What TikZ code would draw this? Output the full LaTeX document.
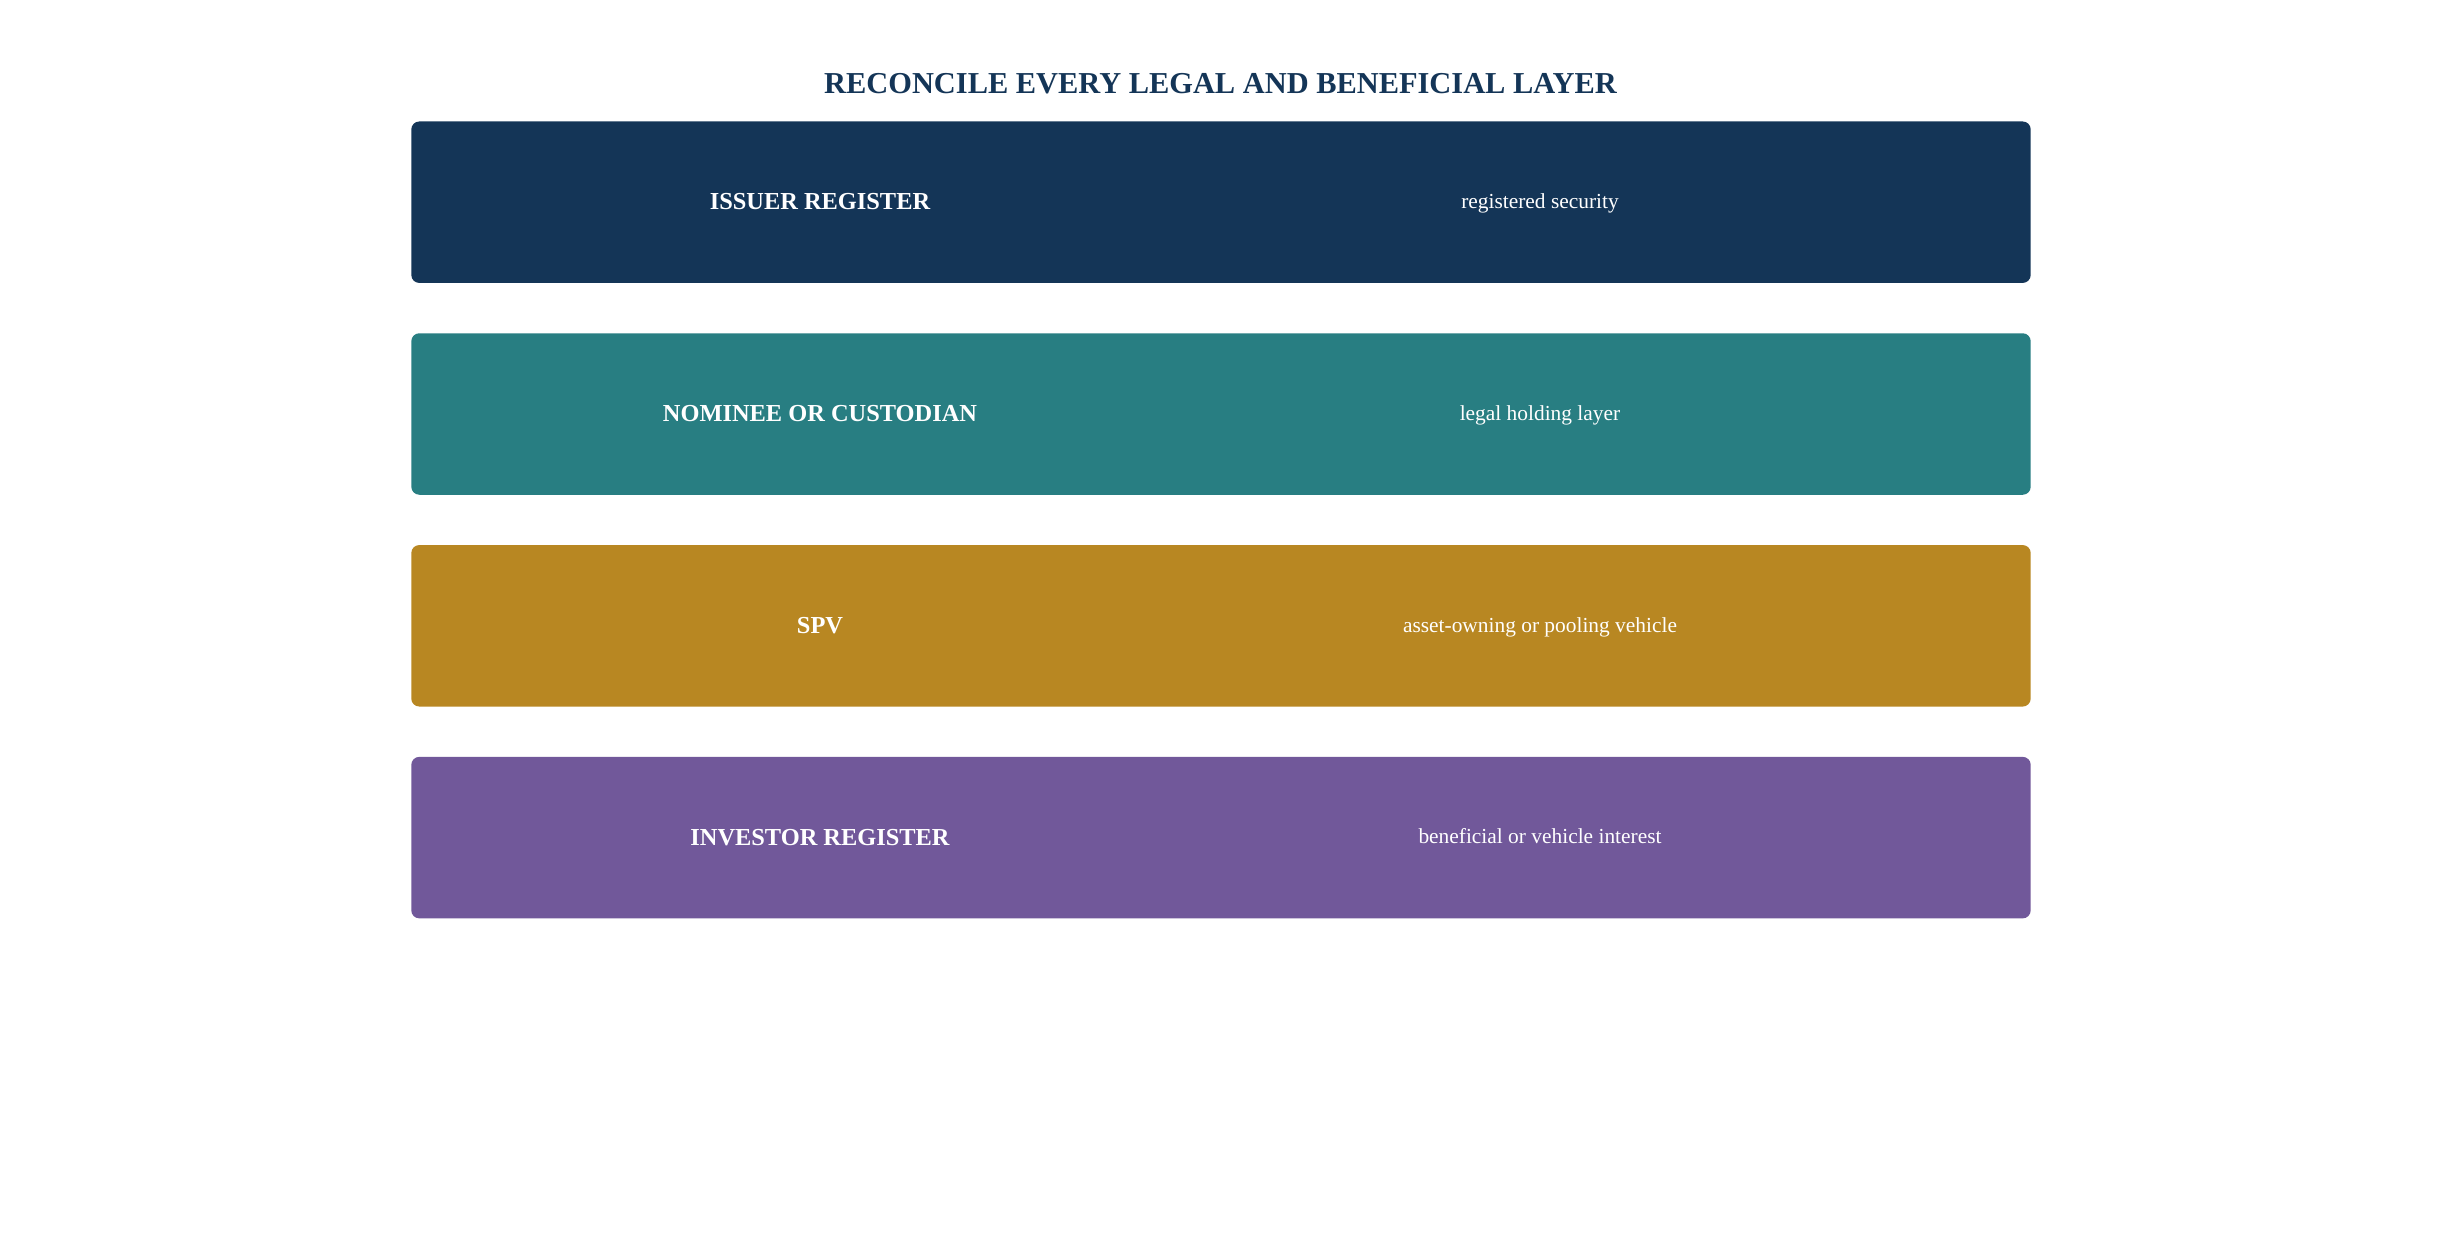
\documentclass[tikz,border=0pt]{standalone}
\usepackage{fontspec}
\setmainfont{Liberation Serif}

\begin{document}
\begin{tikzpicture}[x=0.5pt,y=-0.5pt,
  layer/.style={rectangle,rounded corners=4pt,draw=none,
    minimum width=809.7pt,minimum height=80.75pt,inner sep=0pt},
  layername/.style={anchor=base,text=white,font=\fontsize{12.2pt}{14pt}\selectfont\bfseries},
  layernote/.style={anchor=base,text=white,font=\fontsize{10.7pt}{13pt}\selectfont}]
%
\definecolor{col_issuer}{HTML}{143557}
\definecolor{col_nominee}{HTML}{287E82}
\definecolor{col_spv}{HTML}{B88722}
\definecolor{col_investor}{HTML}{71589A}
%
\useasboundingbox (0,0) rectangle (2441,1253);
%
\node[anchor=base,text=col_issuer,font=\fontsize{15.2pt}{18pt}\selectfont\bfseries]
  (title) at (1220.5,93.3) {RECONCILE EVERY LEGAL AND BENEFICIAL LAYER};
%
\node[layer,fill=col_issuer] (issuer) at (1221,202.2) {};
\node[layername] (issuer_name) at (820,209.6) {ISSUER REGISTER};
\node[layernote] (issuer_note) at (1540,208.4) {registered security};
%
\node[layer,fill=col_nominee] (nominee) at (1221,414) {};
\node[layername] (nominee_name) at (820,421.4) {NOMINEE OR CUSTODIAN};
\node[layernote] (nominee_note) at (1540,420.2) {legal holding layer};
%
\node[layer,fill=col_spv] (spv) at (1221,625.8) {};
\node[layername] (spv_name) at (820,633.2) {SPV};
\node[layernote] (spv_note) at (1540,632) {asset-owning or pooling vehicle};
%
\node[layer,fill=col_investor] (investor) at (1221,837.6) {};
\node[layername] (investor_name) at (820,845) {INVESTOR REGISTER};
\node[layernote] (investor_note) at (1540,843.8) {beneficial or vehicle interest};
%
\end{tikzpicture}
\end{document}
